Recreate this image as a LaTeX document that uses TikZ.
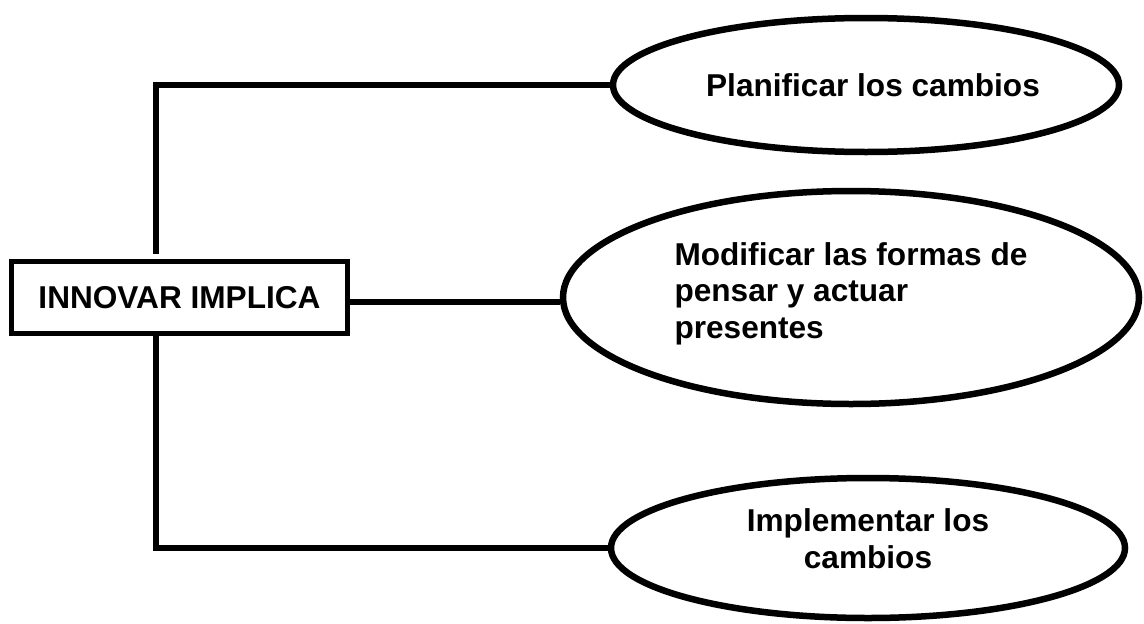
\documentclass[tikz,border=0pt]{standalone}
\usepackage{fontspec}
\setmainfont{Liberation Sans}
\usetikzlibrary{shapes.geometric}
\begin{document}
\begin{tikzpicture}[x=1pt,y=-1pt,
  txt/.style={font=\bfseries\fontsize{31.6}{36.5}\selectfont},
  mainbox/.style={draw,line width=5.5pt,rectangle,inner sep=0pt,minimum width=336pt,minimum height=72pt,txt},
  oval/.style={draw,line width=6.5pt,ellipse,inner sep=0pt,txt},
  conn/.style={line width=6pt}]
\useasboundingbox (0,0) rectangle (1144,624);
\node[mainbox] (box) at (179.5,297.5) {INNOVAR IMPLICA};
\node[oval,minimum width=506pt,minimum height=134pt] (top) at (866,85) {\hspace*{14pt}Planificar los cambios};
\node[oval,minimum width=576pt,minimum height=213pt,align=left] (mid) at (851,297.5) {Modificar las formas de\\pensar y actuar\\presentes\\[-22pt]};
\node[oval,minimum width=514pt,minimum height=140pt,align=center] (bot) at (868,548) {Implementar los\\cambios\\[-18pt]};
\draw[conn] ([xshift=-23.5pt,yshift=5pt]box.north) |- (top.west);
\draw[conn] ([yshift=-4.5pt]box.east) -- ([yshift=-4.5pt]mid.west);
\draw[conn] ([xshift=-23.5pt]box.south) |- (bot.west);
\end{tikzpicture}
\end{document}
